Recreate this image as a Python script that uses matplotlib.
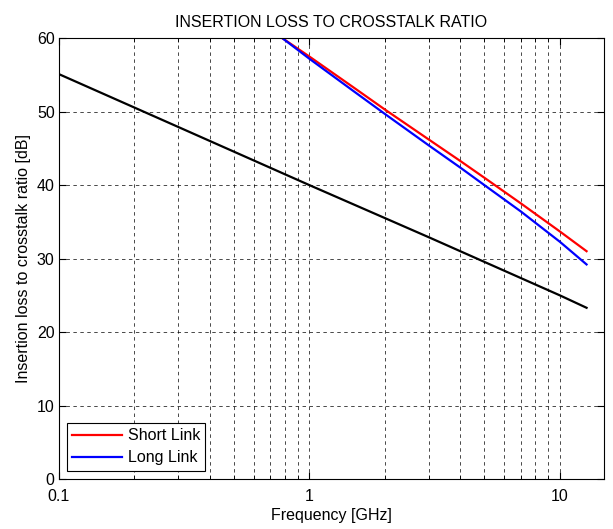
import matplotlib
matplotlib.use('Agg')
import matplotlib.pyplot as plt
from matplotlib.ticker import LogLocator, FixedLocator, NullFormatter

plt.rcParams['font.family']=['Liberation Sans','DejaVu Sans']

#data
freq_link=[0.78,1,1.5,2,3,4,5,7,10,12.8]
short_link=[60,57.5,53.3,50.3,46.2,43.3,41.0,37.5,33.7,31.0]
long_link=[60,57.2,52.8,49.7,45.4,42.4,40.0,36.4,32.3,29.2]

freq_limit=[0.1,0.3,1,3,10,12.8]
limit=[55.1,47.9,40.0,32.9,25.0,23.3]

fs=11.5

fig=plt.figure(figsize=(6.13,5.29),dpi=100)
ax=fig.add_axes([0.096,0.0945,0.889,0.8335])

ax.plot(freq_limit,limit,color='black',lw=1.6)
ax.plot(freq_link,short_link,color='red',lw=1.6,label='Short Link')
ax.plot(freq_link,long_link,color='blue',lw=1.6,label='Long Link')

ax.set_xscale('log')
ax.set_xlim(0.1,15)
ax.set_ylim(0,60)
ax.set_yticks(range(0,61,10))
ax.xaxis.set_major_locator(FixedLocator([0.1,1,10]))
ax.set_xticklabels(['0.1','1','10'])
ax.xaxis.set_minor_locator(LogLocator(base=10,subs=range(2,10)))
ax.xaxis.set_minor_formatter(NullFormatter())

#matlab style grid
grid_style=dict(color='black',linestyle=(0,(5,5)),lw=0.5)
ax.grid(True,which='major',axis='both',**grid_style)
ax.grid(True,which='minor',axis='x',**grid_style)

ax.tick_params(which='both',direction='in',top=True,right=True,labelsize=fs)
ax.tick_params(which='major',length=5)
ax.tick_params(which='minor',length=3)
ax.tick_params(axis='x',pad=7)
ax.tick_params(axis='y',pad=3)
for s in ax.spines.values():
    s.set_linewidth(0.8)

ax.set_title('INSERTION LOSS TO CROSSTALK RATIO',fontsize=fs,pad=8)
ax.set_xlabel('Frequency [GHz]',fontsize=fs,labelpad=3)
ax.set_ylabel('Insertion loss to crosstalk ratio [dB]',fontsize=fs,labelpad=4)

leg=ax.legend(loc='lower left',fontsize=fs,fancybox=False,edgecolor='black',
              framealpha=1,handlelength=3.1,handletextpad=0.35,
              labelspacing=0.45,borderpad=0.35,borderaxespad=0.5)
leg.get_frame().set_linewidth(0.8)

plt.savefig('out.png')
